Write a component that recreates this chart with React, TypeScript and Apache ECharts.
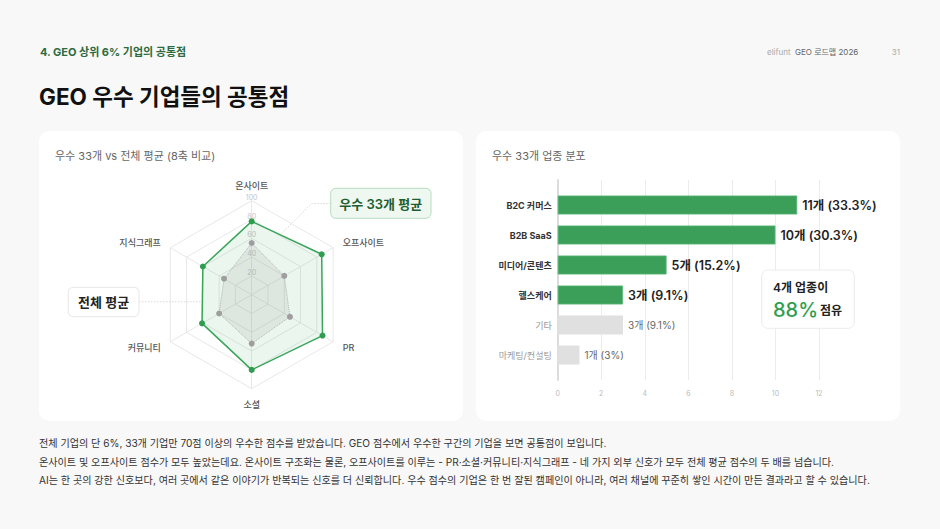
import React, { useEffect, useRef } from "react";
import * as echarts from "echarts";

const FONT = 'Inter, "Noto Sans CJK KR", "Noto Sans", sans-serif';

// Radar data (clockwise from top)
const radarAxes = ["온사이트", "오프사이트", "PR", "소셜", "커뮤니티", "지식그래프"];
const topAvg = [78, 86, 87, 80, 61, 60];
const allAvg = [55, 40, 47, 52, 40, 34];
// ECharts radar runs counter-clockwise, so feed axes in reverse (keeping the top one first)
const order = [0, 5, 4, 3, 2, 1];

// Bar data
const industries = ["B2C 커머스", "B2B SaaS", "미디어/콘텐츠", "헬스케어", "기타", "마케팅/컨설팅"];
const counts = [11, 10, 5, 3, 3, 1];
const shares = ["33.3", "30.3", "15.2", "9.1", "9.1", "3"];
const highlighted = [true, true, true, true, false, false];
const xTicks = [0, 2, 4, 6, 8, 10, 12];

const footerLines = [
  "전체 기업의 단 6%, 33개 기업만 70점 이상의 우수한 점수를 받았습니다. GEO 점수에서 우수한 구간의 기업을 보면 공통점이 보입니다.",
  "온사이트 및 오프사이트 점수가 모두 높았는데요. 온사이트 구조화는 물론, 오프사이트를 이루는 - PR·소셜·커뮤니티·지식그래프 - 네 가지 외부 신호가 모두 전체 평균 점수의 두 배를 넘습니다.",
  "AI는 한 곳의 강한 신호보다, 여러 곳에서 같은 이야기가 반복되는 신호를 더 신뢰합니다. 우수 점수의 기업은 한 번 잘된 캠페인이 아니라, 여러 채널에 꾸준히 쌓인 시간이 만든 결과라고 할 수 있습니다.",
];

const GREEN = "#3b9f5a";
const GRAY_BAR = "#e0e0e0";

export default function App() {
  const ref = useRef<HTMLDivElement>(null);
  useEffect(() => {
    if (!ref.current) return;
    const chart = echarts.init(ref.current, null, { renderer: "svg" });

    const option: any = {
      animation: false,
      backgroundColor: "#f8f8f8",
      textStyle: { fontFamily: FONT },
      radar: {
        center: [251.7, 294.7],
        radius: 94,
        startAngle: 90,
        shape: "polygon",
        splitNumber: 5,
        nameGap: 11,
        axisName: { color: "#555", fontSize: 9, fontFamily: FONT, fontWeight: 500 },
        splitLine: { lineStyle: { color: "#e8e8e8", width: 1 } },
        splitArea: { show: false },
        axisLine: { lineStyle: { color: "#e8e8e8" } },
        axisTick: { show: false },
        axisLabel: { show: false },
        indicator: order.map((k, i) =>
          i === 0
            ? {
                name: radarAxes[k],
                min: 0,
                max: 100,
                axisLabel: {
                  show: true,
                  color: "#c4c4c4",
                  fontSize: 7,
                  margin: 0,
                  align: "center",
                  verticalAlign: "bottom",
                  fontFamily: FONT,
                  formatter: (v: number) => (v === 0 ? "" : String(v)),
                },
              }
            : { name: radarAxes[k], min: 0, max: 100 }
        ),
      },
      grid: [
        { left: 557.7, top: 190, width: 261.3, height: 180 },
        { left: 557.7, top: 180, width: 261.3, height: 200 },
      ],
      xAxis: [
        { type: "value", gridIndex: 0, min: 0, max: 12, interval: 2, show: false },
        {
          type: "value",
          gridIndex: 1,
          min: 0,
          max: 12,
          interval: 2,
          axisLine: { show: false },
          axisTick: { show: false },
          splitLine: { lineStyle: { color: "#ececec", width: 1 } },
          axisLabel: {
            color: "#bbb",
            fontSize: 7,
            margin: 10,
            fontFamily: FONT,
            formatter: (v: number) => (xTicks.includes(v) ? String(v) : ""),
          },
        },
      ],
      yAxis: [
        {
          type: "category",
          gridIndex: 0,
          inverse: true,
          data: industries,
          axisLine: { show: false },
          axisTick: { show: false },
          axisLabel: {
            margin: 6,
            formatter: (v: string, i: number) => (highlighted[i] ? `{b|${v}}` : `{g|${v}}`),
            rich: {
              b: { color: "#333", fontSize: 9, fontWeight: 700, fontFamily: FONT },
              g: { color: "#9a9a9a", fontSize: 9, fontWeight: 400, fontFamily: FONT },
            },
          },
        },
        {
          type: "value",
          gridIndex: 1,
          min: 0,
          max: 1,
          axisLine: { show: true, lineStyle: { color: "#dcdcdc", width: 2 } },
          axisTick: { show: false },
          axisLabel: { show: false },
          splitLine: { show: false },
        },
      ],
      series: [
        {
          type: "radar",
          z: 3,
          symbol: "circle",
          symbolSize: 6,
          data: [
            {
              value: order.map((k) => allAvg[k]),
              name: "전체 평균",
              lineStyle: { color: "#b5b5b5", width: 1, type: "dotted" },
              itemStyle: { color: "#9e9e9e" },
              areaStyle: { color: "rgba(150,150,150,0.22)" },
            },
          ],
        },
        {
          type: "radar",
          z: 2,
          symbol: "circle",
          symbolSize: 6,
          data: [
            {
              value: order.map((k) => topAvg[k]),
              name: "우수 33개 평균",
              lineStyle: { color: "#3aa55a", width: 1.5 },
              itemStyle: { color: "#2f9d4f" },
              areaStyle: { color: "rgba(60,170,95,0.15)" },
            },
          ],
        },
        {
          type: "bar",
          xAxisIndex: 0,
          yAxisIndex: 0,
          barWidth: 19,
          data: counts.map((c, i) => ({
            value: c,
            itemStyle: highlighted[i]
              ? { color: GREEN, borderColor: "#5bb876", borderWidth: 0.8 }
              : { color: GRAY_BAR },
            label: highlighted[i]
              ? { color: "#222", fontSize: 12.5, fontWeight: 600 }
              : { color: "#666", fontSize: 10, fontWeight: 400 },
          })),
          label: {
            show: true,
            position: "right",
            distance: 5,
            fontFamily: FONT,
            formatter: (p: any) => `${counts[p.dataIndex]}개 (${shares[p.dataIndex]}%)`,
          },
        },
      ],
      graphic: [
        // cards
        { type: "rect", z: -10, shape: { x: 39, y: 131, width: 424, height: 290, r: 10 }, style: { fill: "#fff" } },
        { type: "rect", z: -10, shape: { x: 476, y: 131, width: 424, height: 290, r: 10 }, style: { fill: "#fff" } },
        // header
        {
          type: "text", x: 40, y: 52, z: 50,
          style: { text: "4. GEO 상위 6% 기업의 공통점", fill: "#2d6a3e", fontSize: 11, fontWeight: 700, fontFamily: FONT, verticalAlign: "middle" },
        },
        {
          type: "text", x: 767, y: 52, z: 50,
          style: { text: "elifunt", fill: "#aaa", fontSize: 8, fontFamily: FONT, verticalAlign: "middle" },
        },
        {
          type: "text", x: 795, y: 52, z: 50,
          style: { text: "GEO 로드맵 2026", fill: "#666", fontSize: 8, fontFamily: FONT, verticalAlign: "middle" },
        },
        {
          type: "text", x: 900, y: 52, z: 50,
          style: { text: "31", fill: "#aaa", fontSize: 8, fontFamily: FONT, verticalAlign: "middle", align: "right" },
        },
        {
          type: "text", x: 39, y: 96, z: 50,
          style: { text: "GEO 우수 기업들의 공통점", fill: "#111", fontSize: 22.5, fontWeight: 700, fontFamily: FONT, verticalAlign: "middle" },
        },
        // card titles
        {
          type: "text", x: 55, y: 156, z: 50,
          style: { text: "우수 33개 vs 전체 평균 (8축 비교)", fill: "#666", fontSize: 11, fontFamily: FONT, verticalAlign: "middle" },
        },
        {
          type: "text", x: 492, y: 156, z: 50,
          style: { text: "우수 33개 업종 분포", fill: "#666", fontSize: 11, fontFamily: FONT, verticalAlign: "middle" },
        },
        // radar callouts
        {
          type: "polyline", z: 40,
          shape: { points: [[330.7, 203.5], [311.7, 203.5], [281, 234]] },
          style: { stroke: "#cfcfcf", lineWidth: 0.8, lineDash: [1.5, 1.5], fill: null },
        },
        {
          type: "rect", z: 45,
          shape: { x: 330.7, y: 188.3, width: 100.3, height: 30, r: 5 },
          style: { fill: "#eef7f0", stroke: "#b7dcc1", lineWidth: 1 },
        },
        {
          type: "text", x: 380.8, y: 203.5, z: 50,
          style: { text: "우수 33개 평균", fill: "#1f5e31", fontSize: 13, fontWeight: 600, fontFamily: FONT, align: "center", verticalAlign: "middle" },
        },
        {
          type: "line", z: 40,
          shape: { x1: 139, y1: 301.8, x2: 202, y2: 301.8 },
          style: { stroke: "#cfcfcf", lineWidth: 0.8, lineDash: [1.5, 1.5] },
        },
        {
          type: "rect", z: 45,
          shape: { x: 68.3, y: 287.3, width: 70.7, height: 29.4, r: 5 },
          style: { fill: "#fff", stroke: "#e6e6e6", lineWidth: 1 },
        },
        {
          type: "text", x: 103.6, y: 302, z: 50,
          style: { text: "전체 평균", fill: "#222", fontSize: 13, fontWeight: 600, fontFamily: FONT, align: "center", verticalAlign: "middle" },
        },
        // bar summary box
        {
          type: "rect", z: 45,
          shape: { x: 761.7, y: 270, width: 92.6, height: 58.3, r: 6 },
          style: { fill: "#fff", stroke: "#ebebeb", lineWidth: 1 },
        },
        {
          type: "text", x: 773, y: 287.7, z: 50,
          style: { text: "4개 업종이", fill: "#222", fontSize: 12, fontWeight: 600, fontFamily: FONT, verticalAlign: "middle" },
        },
        {
          type: "text", x: 773, y: 309.5, z: 50,
          style: { text: "88%", fill: "#2f9e4f", fontSize: 20, fontWeight: 500, fontFamily: FONT, verticalAlign: "middle" },
        },
        {
          type: "text", x: 820, y: 310.5, z: 50,
          style: { text: "점유", fill: "#222", fontSize: 12, fontWeight: 600, fontFamily: FONT, verticalAlign: "middle" },
        },
        // footer
        ...footerLines.map((t, i) => ({
          type: "text", x: 39, y: 443 + i * 18.5, z: 50,
          style: { text: t, fill: "#333", fontSize: 10.1, fontFamily: FONT, verticalAlign: "middle" },
        })),
      ],
    };

    chart.setOption(option);
    return () => chart.dispose();
  }, []);

  return (
    <div
      ref={ref}
      style={{ position: "absolute", left: 0, top: 0, width: 940, height: 529 }}
    />
  );
}
